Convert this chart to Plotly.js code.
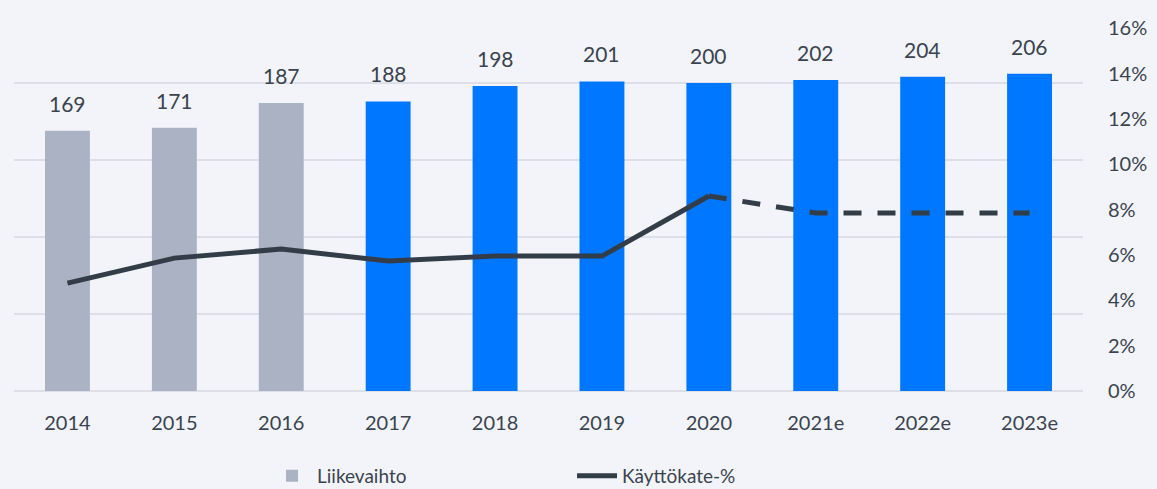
<!DOCTYPE html>
<html><head><meta charset="utf-8">
<script src="https://cdn.plot.ly/plotly-3.0.1.min.js"></script>
<style>html,body{margin:0;padding:0;background:#F3F4F9;}#chart{width:1157px;height:489px;}</style>
</head><body><div id="chart"></div>
<script>
const years = ["2014","2015","2016","2017","2018","2019","2020","2021e","2022e","2023e"];
const revenue = [169,171,187,188,198,201,200,202,204,206];
const ebitdaPct = [0.0476,0.0586,0.0626,0.0573,0.0595,0.0595,0.086,0.0785,0.0785,0.0785];
const isHistory = [true,true,true,false,false,false,false,false,false,false]; // grey vs blue bars
const lastActualIndex = 6; // 2020: solid up to here, dashed after

const grey = "#ABB2C4", blue = "#0077FF", lineCol = "#333D47", txt = "#3A4450";
const font = "Lato, 'Open Sans', sans-serif";

const bars = {
  type: "bar", x: years, y: revenue, name: "Liikevaihto",
  marker: {color: isHistory.map(h => h ? grey : blue)},
  width: 0.42, hoverinfo: "x+y"
};
const solid = {
  type: "scatter", mode: "lines", x: years,
  y: ebitdaPct.map((v,i) => i <= lastActualIndex ? v : null),
  yaxis: "y2", name: "Käyttökate-%",
  line: {color: lineCol, width: 5}
};
const dashed = {
  type: "scatter", mode: "lines", x: years,
  y: ebitdaPct.map((v,i) => i >= lastActualIndex ? v : null),
  yaxis: "y2", showlegend: false, name: "Käyttökate-% (e)",
  line: {color: lineCol, width: 5, dash: "18px,16px"}
};

// category axis: annotation x given as category index
const annotations = years.map((yr,i) => ({
  x: i, y: revenue[i], xref: "x", yref: "y", text: String(revenue[i]),
  showarrow: false, yanchor: "bottom", yshift: 13,
  font: {family: font, size: 21, color: txt}
}));

const layout = {
  width: 1157, height: 489,
  margin: {l: 14, r: 74, t: 6, b: 97.5, autoexpand: false},
  paper_bgcolor: "#F3F4F9", plot_bgcolor: "#F3F4F9",
  font: {family: font, color: txt},
  xaxis: {type: "category", categoryorder: "array", categoryarray: years, range: [-0.5, years.length - 0.5],
          showgrid: false, zeroline: false, showline: false, automargin: false,
          ticks: "outside", ticklen: 14, tickcolor: "rgba(0,0,0,0)",
          tickfont: {family: font, size: 20, color: txt}},
  yaxis: {range: [0, 250], dtick: 50, showticklabels: false, showgrid: true, automargin: false,
          gridcolor: "#DDDFE6", gridwidth: 2, zeroline: true, zerolinecolor: "#DDDFE6", zerolinewidth: 2},
  yaxis2: {overlaying: "y", side: "right", range: [0, 0.1698], dtick: 0.02, tickformat: ".0%",
           showgrid: false, zeroline: false, showline: false, automargin: false,
           ticks: "outside", ticklen: 20, tickcolor: "rgba(0,0,0,0)",
           tickfont: {family: font, size: 20, color: txt}},
  legend: {orientation: "h", x: 0.522, xanchor: "center", yref: "container", y: 0.027, yanchor: "middle",
           font: {family: font, size: 19, color: txt},
           entrywidth: 250, entrywidthmode: "pixels", itemwidth: 40},
  annotations: annotations,
  showlegend: true
};

Plotly.newPlot("chart", [bars, solid, dashed], layout, {displayModeBar: false, staticPlot: true});
</script></body></html>
